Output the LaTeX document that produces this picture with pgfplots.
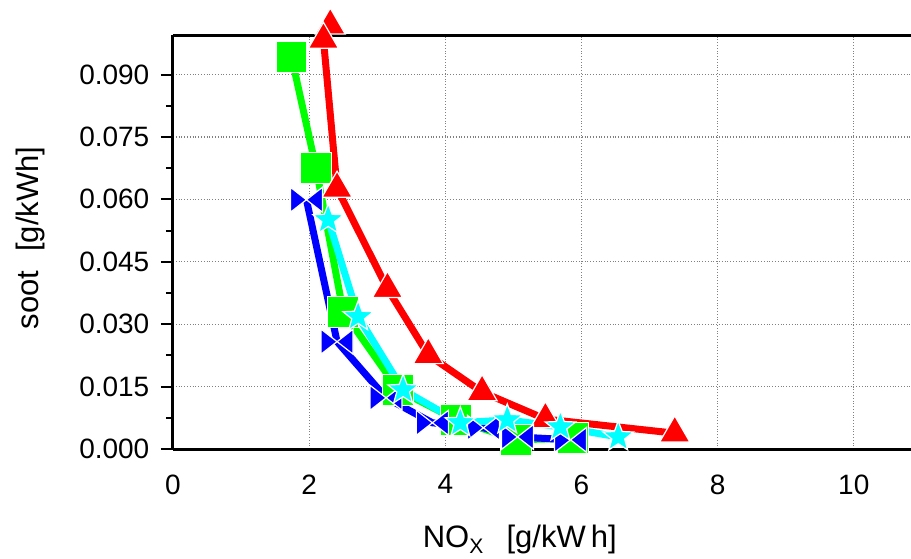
\documentclass[border=0pt]{standalone}
\usepackage{fontspec}
\setmainfont{Liberation Sans}
\usepackage{pgfplots}
\pgfplotsset{compat=1.18}
\definecolor{cred}{RGB}{255,0,0}
\definecolor{cgreen}{RGB}{0,255,0}
\definecolor{cblue}{RGB}{0,0,255}
\definecolor{ccyan}{RGB}{0,255,255}
\pgfdeclareplotmark{bowtie}{%
  \pgfpathmoveto{\pgfqpoint{-\pgfplotmarksize}{-0.78\pgfplotmarksize}}%
  \pgfpathlineto{\pgfqpoint{0pt}{0pt}}%
  \pgfpathlineto{\pgfqpoint{-\pgfplotmarksize}{0.78\pgfplotmarksize}}%
  \pgfpathclose
  \pgfpathmoveto{\pgfqpoint{\pgfplotmarksize}{-0.78\pgfplotmarksize}}%
  \pgfpathlineto{\pgfqpoint{0pt}{0pt}}%
  \pgfpathlineto{\pgfqpoint{\pgfplotmarksize}{0.78\pgfplotmarksize}}%
  \pgfpathclose
  \pgfusepathqfillstroke}
\pgfdeclareplotmark{fstar}{%
  \pgfpathmoveto{\pgfqpointpolar{90}{\pgfplotmarksize}}%
  \pgfpathlineto{\pgfqpointpolar{126}{0.42\pgfplotmarksize}}%
  \pgfpathlineto{\pgfqpointpolar{162}{\pgfplotmarksize}}%
  \pgfpathlineto{\pgfqpointpolar{198}{0.42\pgfplotmarksize}}%
  \pgfpathlineto{\pgfqpointpolar{234}{\pgfplotmarksize}}%
  \pgfpathlineto{\pgfqpointpolar{270}{0.42\pgfplotmarksize}}%
  \pgfpathlineto{\pgfqpointpolar{306}{\pgfplotmarksize}}%
  \pgfpathlineto{\pgfqpointpolar{342}{0.42\pgfplotmarksize}}%
  \pgfpathlineto{\pgfqpointpolar{18}{\pgfplotmarksize}}%
  \pgfpathlineto{\pgfqpointpolar{54}{0.42\pgfplotmarksize}}%
  \pgfpathclose
  \pgfusepathqfillstroke}
\begin{document}
\begin{tikzpicture}
\useasboundingbox (-86.5pt,-54.5pt) rectangle (369pt,224.5pt);
\begin{axis}[
  scale only axis, width=369pt, height=207pt,
  xmin=0, xmax=10.84, ymin=0, ymax=0.0995,
  axis x line=box, axis y line=left,
  axis line style={-, line width=1.5pt, black},
  clip=false,
  xtick={0,2,4,6,8,10},
  ytick={0,0.015,0.03,0.045,0.06,0.075,0.09},
  minor y tick num=1,
  tick align=outside,
  xtick style={draw=none},
  ytick style={line width=1pt, black},
  major tick length=6pt, minor tick length=3.5pt,
  scaled y ticks=false,
  yticklabel style={/pgf/number format/fixed, /pgf/number format/fixed zerofill, /pgf/number format/precision=3},
  /pgf/number format/assume math mode=true,
  tick label style={font=\fontsize{14}{16}\selectfont},
  xticklabel style={yshift=-3.3pt},
  yticklabel style={xshift=-2.3pt},
  grid=major,
  major grid style={densely dotted, gray, line width=0.6pt},
  xlabel={NO\raisebox{-0.35ex}{\fontsize{10.5}{11}\selectfont X}\hspace{0.75em}[g/kW\,h]},
  ylabel={soot\hspace{0.6em}[g/kWh]},
  label style={font=\fontsize{15.5}{18}\selectfont},
  xlabel style={at={(axis description cs:0.47,-0.2385)}, anchor=base},
  ylabel style={at={(axis description cs:-0.1816,0.51)}, anchor=base},
]
% green squares
\addplot[cgreen, line width=3.5pt, mark=square*, mark size=7.75pt,
  mark options={fill=cgreen, draw=white, line width=0.6pt}]
  coordinates {(1.74,0.0943) (2.10,0.0676) (2.50,0.0330) (3.31,0.0142)
               (4.16,0.0070) (5.04,0.0022) (5.87,0.0026)};
% red triangles
\addplot[cred, line width=3.5pt, mark=triangle*, mark size=8.66pt,
  mark options={fill=cred, draw=white, line width=0.6pt}]
  coordinates {(2.31,0.1018) (2.21,0.0984) (2.41,0.0626) (3.15,0.0385)
               (3.75,0.0226) (4.54,0.0137) (5.47,0.0072) (7.37,0.0038)};
% blue bowties
\addplot[cblue, line width=3.5pt, mark=bowtie, mark size=8pt,
  mark options={fill=cblue, draw=white, line width=0.6pt}]
  coordinates {(1.96,0.0599) (2.41,0.0258) (3.13,0.0123) (3.81,0.0063)
               (4.56,0.0051) (5.06,0.0029) (5.84,0.0022)};
% cyan stars
\addplot[ccyan, line width=3.5pt, mark=fstar, mark size=8pt,
  mark options={fill=ccyan, draw=white, line width=0.6pt}]
  coordinates {(2.28,0.0551) (2.72,0.0318) (3.38,0.0142) (4.22,0.0063)
               (4.91,0.0070) (5.69,0.0053) (6.54,0.0029)};
\end{axis}
\end{tikzpicture}
\end{document}
